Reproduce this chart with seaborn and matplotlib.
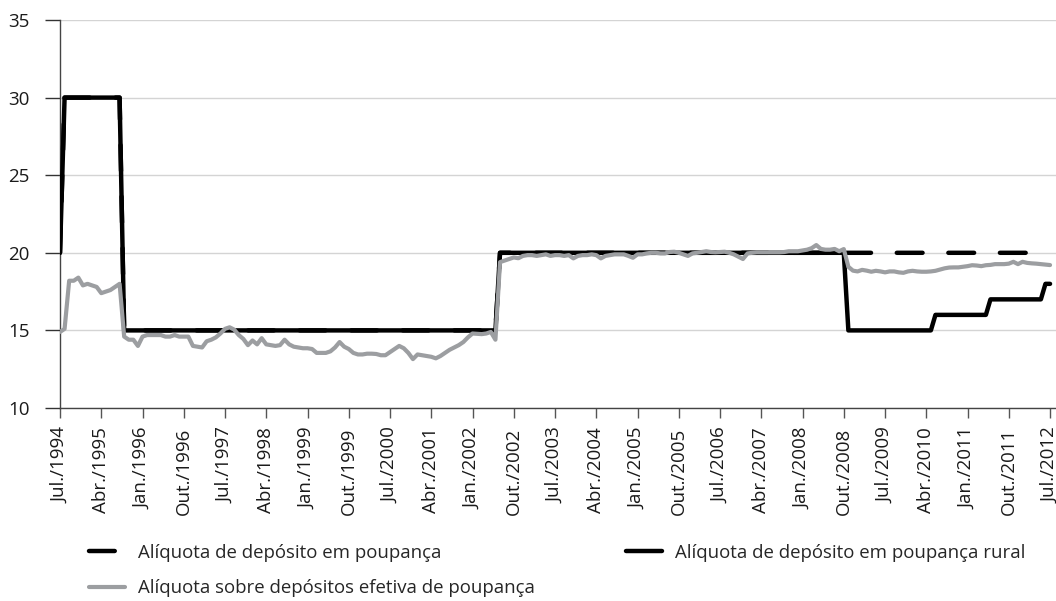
import matplotlib
matplotlib.use("Agg")
import matplotlib.pyplot as plt
import numpy as np
import pandas as pd
import seaborn as sns

# Monthly data, Jul/1994 .. Jul/2012 (217 months)
tick_labels = [
    "Jul./1994", "Abr./1995", "Jan./1996", "Out./1996", "Jul./1997", "Abr./1998",
    "Jan./1999", "Out./1999", "Jul./2000", "Abr./2001", "Jan./2002", "Out./2002",
    "Jul./2003", "Abr./2004", "Jan./2005", "Out./2005", "Jul./2006", "Abr./2007",
    "Jan./2008", "Out./2008", "Jul./2009", "Abr./2010", "Jan./2011", "Out./2011",
    "Jul./2012",
]

# step series stored as (rate, number of months)
poupanca_runs = [(20, 1), (30, 13), (15, 82), (20, 121)]
rural_runs = [(20, 1), (30, 13), (15, 82), (20, 76), (15, 19), (16, 12), (17, 12), (18, 2)]

efetiva = [
    14.9, 15.1, 18.2, 18.2, 18.4, 17.9, 18.0, 17.9, 17.8, 17.4,
    17.5, 17.6, 17.8, 18.0, 14.6, 14.4, 14.4, 14.0, 14.6, 14.7,
    14.7, 14.7, 14.7, 14.6, 14.6, 14.7, 14.6, 14.6, 14.6, 14.0,
    13.95, 13.9, 14.3, 14.4, 14.55, 14.8, 15.1, 15.2, 15.05, 14.7,
    14.45, 14.05, 14.35, 14.1, 14.5, 14.1, 14.05, 14.0, 14.05, 14.4,
    14.1, 13.95, 13.9, 13.85, 13.85, 13.8, 13.55, 13.55, 13.55, 13.65,
    13.9, 14.25, 13.95, 13.8, 13.55, 13.45, 13.45, 13.5, 13.5, 13.48,
    13.4, 13.4, 13.6, 13.8, 14.0, 13.85, 13.55, 13.15, 13.45, 13.4,
    13.35, 13.3, 13.2, 13.35, 13.55, 13.75, 13.9, 14.05, 14.25, 14.55,
    14.8, 14.78, 14.76, 14.8, 14.9, 14.4, 19.4, 19.5, 19.6, 19.7,
    19.65, 19.8, 19.85, 19.85, 19.8, 19.85, 19.9, 19.8, 19.85, 19.85,
    19.8, 19.85, 19.64, 19.8, 19.85, 19.85, 19.9, 19.85, 19.64, 19.8,
    19.85, 19.9, 19.9, 19.9, 19.8, 19.68, 19.9, 19.9, 19.96, 20.0,
    20.0, 19.96, 19.96, 20.05, 20.07, 20.0, 19.9, 19.8, 19.96, 20.0,
    20.05, 20.1, 20.05, 20.03, 20.05, 20.07, 20.0, 19.9, 19.75, 19.6,
    19.96, 20.0, 20.03, 20.03, 20.03, 20.03, 20.03, 20.03, 20.05, 20.1,
    20.1, 20.1, 20.15, 20.2, 20.3, 20.5, 20.25, 20.2, 20.2, 20.25,
    20.1, 20.24, 19.1, 18.85, 18.8, 18.9, 18.85, 18.78, 18.84, 18.8,
    18.74, 18.8, 18.8, 18.74, 18.71, 18.8, 18.84, 18.8, 18.78, 18.78,
    18.8, 18.84, 18.92, 19.0, 19.05, 19.06, 19.06, 19.1, 19.14, 19.2,
    19.18, 19.14, 19.2, 19.22, 19.27, 19.27, 19.27, 19.3, 19.42, 19.27,
    19.42, 19.35, 19.32, 19.3, 19.27, 19.24, 19.21,
]


def expand(runs):
    out = []
    for value, n in runs:
        out.extend([value] * n)
    return out


df = pd.DataFrame({
    "mes": np.arange(len(efetiva)),
    "poupanca": expand(poupanca_runs),
    "rural": expand(rural_runs),
    "efetiva": efetiva,
})

sns.set_theme(style="white")
plt.rcParams["font.family"] = ["Open Sans", "DejaVu Sans"]

fig = plt.figure(figsize=(10.56, 6.01), dpi=100)
ax = fig.add_axes([60 / 1056, 1 - 408 / 601, 1 - 60 / 1056, (408 - 20) / 601])

grey = "#9c9ea1"
sns.lineplot(data=df, x="mes", y="rural", ax=ax, color="black", linewidth=3.2,
             label="Alíquota de depósito em poupança rural", zorder=3)
sns.lineplot(data=df, x="mes", y="poupanca", ax=ax, color="black", linewidth=3.2,
             label="Alíquota de depósito em poupança", zorder=4)
ax.lines[-1].set_dashes((5.8, 5.8))
ax.lines[-1].set_dash_capstyle("round")
sns.lineplot(data=df, x="mes", y="efetiva", ax=ax, color=grey, linewidth=3.0,
             label="Alíquota sobre depósitos efetiva de poupança", zorder=5)

ax.set_xlim(0, 217.3)
ax.set_ylim(10, 35)
ax.set_yticks([10, 15, 20, 25, 30, 35])
ax.set_xticks(np.arange(0, 217, 9))
ax.set_xticklabels(tick_labels, rotation=90, fontsize=13.5, color="#1a1a1a")
ax.set_xlabel("")
ax.set_ylabel("")
ax.yaxis.set_tick_params(which="major", labelsize=13.5, labelcolor="#1a1a1a",
                         length=11, width=1, color="#333333", pad=11,
                         left=True, direction="out")
ax.xaxis.set_tick_params(which="major", length=7, width=1, color="#555555",
                         pad=7, bottom=True, direction="out")

ax.grid(axis="y", color="#d4d4d4", linewidth=1)
ax.grid(axis="x", visible=False)
for side in ["top", "right"]:
    ax.spines[side].set_visible(False)
for side in ["left", "bottom"]:
    ax.spines[side].set_color("#444444")
    ax.spines[side].set_linewidth(1)

handles, labels = ax.get_legend_handles_labels()
ax.get_legend().remove()
order = [1, 2, 0]
fig.legend([handles[i] for i in order], [labels[i] for i in order],
           loc="upper left", bbox_to_anchor=(72 / 1056, 1 - 527 / 601), ncol=2,
           frameon=False, fontsize=13.4, handlelength=1.95, handletextpad=0.7,
           columnspacing=4.9, labelspacing=0.95, borderpad=0.4)

fig.savefig("out.png", dpi=100)
